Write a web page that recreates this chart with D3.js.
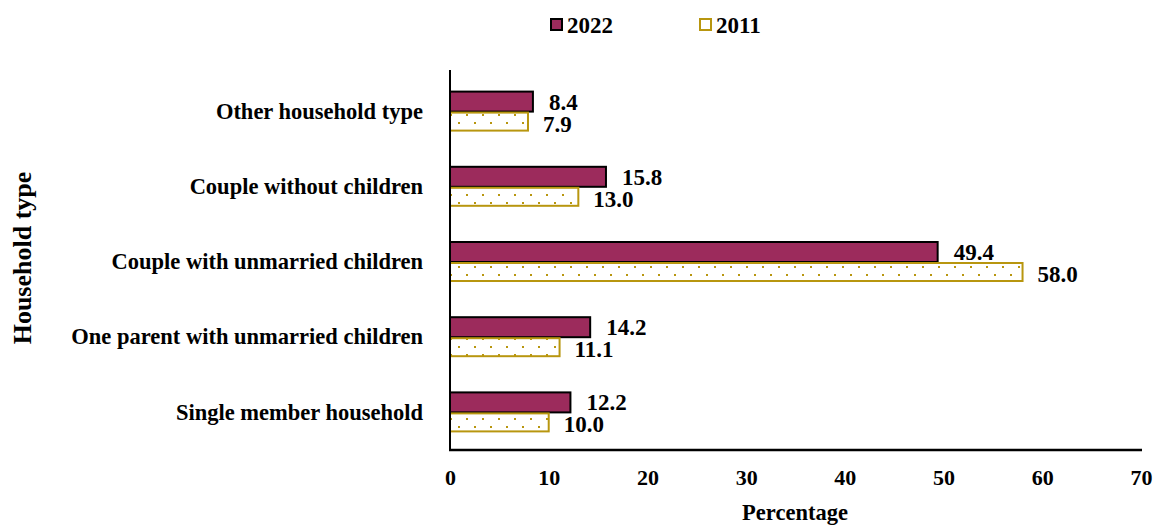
<!DOCTYPE html>
<html><head><meta charset="utf-8">
<script src="https://cdn.jsdelivr.net/npm/d3@7"></script>
<style>
body{margin:0;background:#fff;}
text{font-family:"Liberation Serif","Times New Roman",serif;font-weight:bold;fill:#000;}
</style></head>
<body><svg id="c" width="1159" height="525"></svg>
<script>
const categories = ["Other household type","Couple without children","Couple with unmarried children","One parent with unmarried children","Single member household"];
const values2022 = [8.4, 15.8, 49.4, 14.2, 12.2];
const values2011 = [7.9, 13.0, 58.0, 11.1, 10.0];
const seriesNames = ["2022","2011"];
const xTicks = [0,10,20,30,40,50,60,70];

const purple = "#9C2B5C", gold = "#B8960F";
const svg = d3.select("#c");
const defs = svg.append("defs");
const pat = defs.append("pattern").attr("id","dots").attr("patternUnits","userSpaceOnUse")
  .attr("width",16).attr("height",16);
pat.append("rect").attr("width",16).attr("height",16).attr("fill","#fff");
pat.append("rect").attr("x",2).attr("y",2).attr("width",2).attr("height",2).attr("fill",gold);
pat.append("rect").attr("x",10).attr("y",10).attr("width",2).attr("height",2).attr("fill",gold);

const x = d3.scaleLinear().domain([0,70]).range([450,1141]);
const y = d3.scaleBand().domain(categories).range([74,450]).paddingInner(0).paddingOuter(0);
const bh = 20;

const data = categories.map((c,i)=>({c, v22: values2022[i], v11: values2011[i]}));
const g = svg.append("g");
g.selectAll(".b22").data(data).enter().append("rect")
  .attr("x",x(0)).attr("y",d=>y(d.c)+y.bandwidth()/2-bh)
  .attr("width",d=>x(d.v22)-x(0)).attr("height",bh)
  .attr("fill",purple).attr("stroke","#000").attr("stroke-width",2);
g.selectAll(".b11").data(data).enter().append("rect")
  .attr("x",x(0)).attr("y",d=>y(d.c)+y.bandwidth()/2+1)
  .attr("width",d=>x(d.v11)-x(0)).attr("height",bh-2)
  .attr("fill","url(#dots)").attr("stroke",gold).attr("stroke-width",2);
g.selectAll(".l22").data(data).enter().append("text")
  .attr("x",d=>x(d.v22)+16).attr("y",d=>y(d.c)+y.bandwidth()/2-10)
  .attr("dy","0.35em").attr("font-size",23).text(d=>d.v22.toFixed(1));
g.selectAll(".l11").data(data).enter().append("text")
  .attr("x",d=>x(d.v11)+15).attr("y",d=>y(d.c)+y.bandwidth()/2+12)
  .attr("dy","0.35em").attr("font-size",23).text(d=>d.v11.toFixed(1));

const xa = svg.append("g").attr("transform","translate(0,450)")
  .call(d3.axisBottom(x).tickValues(xTicks).tickSize(0).tickPadding(19));
xa.select(".domain").attr("stroke","#000").attr("stroke-width",2.5).attr("d","M449,0H1142");
xa.selectAll("text").attr("font-size",22).attr("font-family","Liberation Serif").attr("fill","#000");

const ya = svg.append("g").attr("transform","translate(450,0)")
  .call(d3.axisLeft(y).tickSize(0).tickPadding(27));
ya.select(".domain").attr("stroke","#000").attr("stroke-width",2).attr("d","M0,70V451");
ya.selectAll("text").attr("font-size",22.5).attr("font-family","Liberation Serif").attr("fill","#000");

svg.append("text").attr("x",795).attr("y",520).attr("text-anchor","middle").attr("font-size",22.5).text("Percentage");
svg.append("text").attr("transform","translate(31,258) rotate(-90)").attr("text-anchor","middle").attr("font-size",26).text("Household type");

const leg = svg.append("g");
const lx = [551, 700];
seriesNames.forEach((s,i)=>{
  leg.append("rect").attr("x",lx[i]).attr("y",19).attr("width",11).attr("height",11)
    .attr("fill", i===0?purple:"#fff").attr("stroke", i===0?"#000":gold).attr("stroke-width",2);
  leg.append("text").attr("x",lx[i]+16).attr("y",25).attr("dy","0.35em").attr("font-size",23).text(s);
});
</script></body></html>
